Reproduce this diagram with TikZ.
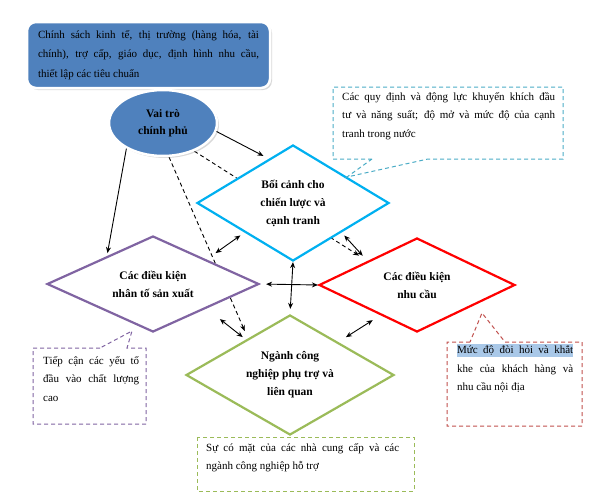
\documentclass[tikz,border=0pt]{standalone}
\usepackage{fontspec}
\setmainfont{Liberation Serif}
\usepackage{xcolor}
\usetikzlibrary{shapes.geometric,arrows.meta,calc,backgrounds,shadows}
\definecolor{vnbleu}{HTML}{4F81BD}
\definecolor{vncyan}{HTML}{00B0F0}
\definecolor{vnviolet}{HTML}{8064A2}
\definecolor{vnrouge}{HTML}{FF0000}
\definecolor{vnvert}{HTML}{9BBB59}
\definecolor{vnturq}{HTML}{4BACC6}
\definecolor{vnrose}{HTML}{C0504D}
\definecolor{vnsel}{HTML}{A9C8E8}
\tikzset{
  dia/.style={diamond,fill=white,line width=2.2pt,inner sep=0pt,align=center,font=\bfseries\fontsize{11.5}{18}\selectfont},
  fl/.style={-{Stealth[length=6pt,width=5pt]},line width=0.9pt},
  fld/.style={fl,dash pattern=on 4pt off 3pt},
  dbl/.style={{Stealth[length=6pt,width=5pt]}-{Stealth[length=6pt,width=5pt]},line width=0.9pt},
  txt/.style={anchor=north west,inner sep=0pt,align=justify,font=\fontsize{11}{18.5}\selectfont},
  bulle/.style={dash pattern=on 4pt off 3pt,line width=1pt},
  ombre/.style={draw=white,line width=2.5pt,fill=vnbleu,drop shadow={opacity=0.3,shadow xshift=2pt,shadow yshift=-2pt}}
}
\begin{document}
\begin{tikzpicture}[x=1pt,y=-1pt]
  \useasboundingbox (0,0) rectangle (590,493);
  \node[ombre,rounded corners=9pt,minimum width=243pt,minimum height=66pt,text width=221pt,inner sep=0pt,align=justify,font=\fontsize{11}{19.5}\selectfont] (pol) at (148.5,55) {Chính sách kinh tế, thị trường (hàng hóa, tài\linebreak chính), trợ cấp, giáo dục, định hình nhu cầu,\linebreak thiết lập các tiêu chuẩn};
  \node[ombre,ellipse,minimum width=108pt,minimum height=66pt,inner sep=0pt,align=center,font=\bfseries\fontsize{11.5}{17}\selectfont] (gov) at (163,123) {Vai trò\\chính phủ};

  \node[dia,draw=vncyan,aspect=1.66,minimum width=192pt,minimum height=116pt] (ctx) at (293,203) {Bối cảnh cho\\chiến lược và\\cạnh tranh};
  \node[dia,draw=vnviolet,aspect=2.2,minimum width=212pt,minimum height=96pt] (fac) at (153,284) {Các điều kiện\\nhân tố sản xuất};
  \node[dia,draw=vnrouge,aspect=2.08,minimum width=196pt,minimum height=94pt] (dem) at (417,285) {Các điều kiện\\nhu cầu};
  \node[dia,draw=vnvert,aspect=1.73,minimum width=208pt,minimum height=120pt] (ind) at (290,375) {Ngành công\\nghiệp phụ trợ và\\liên quan};

  % ghi chu
  \coordinate (pq) at (347,177);
  \coordinate (pf) at (132,331);
  \coordinate (pd) at (482,313);
  \draw[bulle,vnturq] (372,159) -- (333,159) -- (333,87) -- (563,87) -- (563,159) -- (428,159) -- (pq) -- cycle;
  \draw[bulle,vnviolet] (100,348) -- (33,348) -- (33,424) -- (146,424) -- (146,348) -- (127,348) -- (pf) -- cycle;
  \draw[bulle,vnrose] (470,342) -- (447,342) -- (447,426) -- (582,426) -- (582,342) -- (505,342) -- (pd) -- cycle;
  \draw[bulle,vnvert] (197,437) rectangle (414,491);
  \node[txt,text width=213pt] (qdt) at (342,92) {Các quy định và động lực khuyến khích đầu\linebreak tư và năng suất; độ mở và mức độ của cạnh\linebreak tranh trong nước};
  \node[txt,text width=96pt] (fact) at (43,356) {Tiếp cận các yếu tố\linebreak đầu vào chất lượng\linebreak cao};
  \node[txt,text width=116pt] (demt) at (457,344) {\setlength{\fboxsep}{0pt}\colorbox{vnsel}{\rule[-3.5pt]{0pt}{13pt}\makebox[116pt][s]{Mức độ đòi hỏi và khắt}}\linebreak khe của khách hàng và\linebreak nhu cầu nội địa};
  \node[txt,text width=193pt] (indt) at (206,443) {Sự có mặt của các nhà cung cấp và các\linebreak ngành công nghiệp hỗ trợ};

  \draw[fl,shorten >=6pt] (gov.-9) -- ($(ctx.west)!0.75!(ctx.north)$);
  \draw[fl,shorten >=3pt] (gov.-145) -- ($(fac.west)!0.57!(fac.north)$);
  \begin{scope}[on background layer]
    \draw[fld,shorten >=10pt] (gov.-42) -- (dem.north west);
    \draw[fld,shorten >=8pt] (gov.-80) -- ($(ind.west)!0.6!(ind.north)$);
  \end{scope}
  \draw[dbl,shorten <=5pt,shorten >=11pt] (ctx.south west) -- (fac.north east);
  \draw[dbl,shorten <=4pt,shorten >=7pt] (ctx.south east) -- (dem.north west);
  \draw[dbl,shorten <=17pt,shorten >=4pt] (fac.south east) -- ($(ind.west)!0.58!(ind.north)$);
  \draw[dbl,shorten <=9pt,shorten >=9pt] ($(dem.west)!0.63!(dem.south)$) -- ($(ind.north)!0.46!(ind.east)$);
  \draw[dbl,shorten >=5pt] (ctx.south) -- (ind.north);
  \draw[dbl,shorten <=6pt] (fac.east) -- (dem.west);
\end{tikzpicture}
\end{document}
